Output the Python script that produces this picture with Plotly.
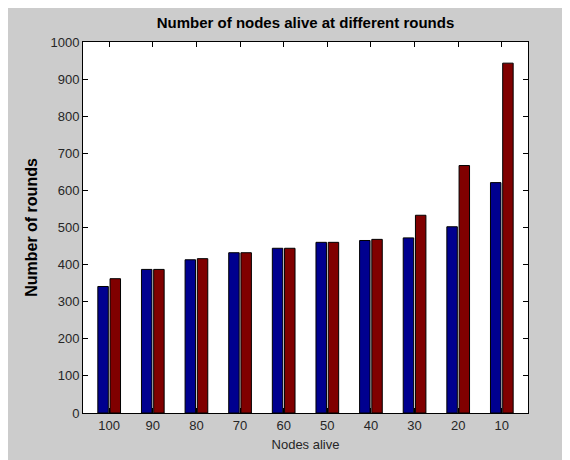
import plotly.graph_objects as go

# Data
nodes_alive = ["100", "90", "80", "70", "60", "50", "40", "30", "20", "10"]
series_a = [341, 387, 413, 432, 444, 460, 465, 472, 502, 621]
series_b = [362, 387, 416, 432, 444, 460, 468, 533, 667, 943]
y_ticks = list(range(0, 1001, 100))

BLUE = "#00008F"
RED = "#800000"
TXT = "#262626"

fig = go.Figure()
fig.add_trace(go.Bar(x=nodes_alive, y=series_a, width=0.24, offset=-0.26,
                     marker=dict(color=BLUE, line=dict(color="black", width=1)),
                     showlegend=False))
fig.add_trace(go.Bar(x=nodes_alive, y=series_b, width=0.24, offset=0.02,
                     marker=dict(color=RED, line=dict(color="black", width=1)),
                     showlegend=False))

W, H = 570, 460
L, R, T, B = 75, 50, 34, 55

fig.update_layout(
    width=W, height=H,
    margin=dict(l=L, r=R, t=T, b=B, pad=0),
    paper_bgcolor="#cccccc",
    plot_bgcolor="white",
    barmode="overlay",
    font=dict(family="Liberation Sans, Arial, sans-serif", size=13, color=TXT),
    title=dict(text="<b>Number of nodes alive at different rounds</b>",
               font=dict(size=15, color="black"),
               x=0.5, xref="paper", xanchor="center",
               y=1 - 15 / H, yref="container", yanchor="middle"),
    xaxis=dict(
        type="category", range=[-0.6, 9.6],
        showline=True, linecolor="black", linewidth=1, mirror="ticks",
        ticks="inside", ticklen=5, tickcolor="black", tickwidth=1,
        showgrid=False, zeroline=False,
        title=dict(text="Nodes alive", font=dict(size=13, color=TXT), standoff=8),
    ),
    yaxis=dict(
        range=[0, 1000], tickvals=y_ticks,
        showline=True, linecolor="black", linewidth=1, mirror="ticks",
        ticks="inside", ticklen=5, tickcolor="black", tickwidth=1,
        showgrid=False, zeroline=False,
        title=dict(text="<b>Number of rounds</b>", font=dict(size=16, color="black"), standoff=8),
    ),
)

fig.write_html("out.html")
